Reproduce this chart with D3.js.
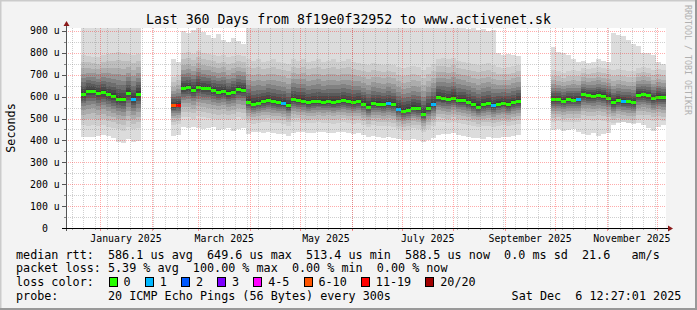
<!DOCTYPE html>
<html lang="en">
<head>
<meta charset="UTF-8">
<title>Last 360 Days from 8f19e0f32952 to www.activenet.sk</title>
<script src="https://cdnjs.cloudflare.com/ajax/libs/d3/7.8.5/d3.min.js"></script>
<style>
  body { margin: 0; background: #fff; }
  svg { display: block; font-family: "DejaVu Sans Mono", monospace; }
  text { white-space: pre; }
</style>
</head>
<body>
<svg id="chart" width="697" height="310"></svg>
<script>
// ---- data (3-day bins, starting 360 days before the end time) ----
const endTime = new Date(2025, 11, 6, 12, 27, 1);
const binDays = 3;

// median rtt in microseconds, null = no data
const median = [
  null, null, null, 612, 627, 628, 618, 620, 610, 603,
  590, 588, 618, 590, 614, null, null, null, null, null,
  null, 560, 562, 640, 642, 632, 645, 640, 638, 630,
  622, 625, 615, 622, 635, 632, 577, 568, 572, 578,
  583, 578, 575, 572, 560, 588, 585, 582, 575, 578,
  580, 577, 580, 576, 580, 583, 578, 575, 578, 568,
  555, 570, 568, 565, 570, 565, 545, 536, 540, 550,
  546, 520, 548, 565, 597, 592, 588, 596, 585, 583,
  575, 566, 555, 565, 570, 560, 568, 572, 566, 574,
  580, null, null, null, null, null, null, 588, 588, 582,
  588, 587, 588, 610, 606, 604, 608, 603, 596, 575,
  584, 580, 578, 575, 608, 610, 606, 592, 600, 597
];

// highest ping of the bin
const smokeMax = [
  null, null, null, 920, 920, 920, 920, 920, 920, 920,
  920, 920, 920, 920, 920, null, null, null, null, null,
  null, 770, 760, 900, 890, 905, 920, 895, 880, 870,
  885, 860, 850, 870, 855, 840, 920, 920, 920, 920,
  920, 920, 920, 920, 920, 920, 920, 920, 920, 920,
  920, 920, 920, 920, 920, 920, 920, 920, 920, 920,
  920, 920, 920, 920, 920, 920, 920, 920, 920, 920,
  920, 920, 920, 920, 920, 920, 920, 920, 920, 915,
  910, 915, 905, 910, 900, 905, 800, 790, 795, 790,
  785, null, null, null, null, null, null, 825, 805, 800,
  790, 770, 760, 765, 755, 760, 770, 765, 760, 890,
  880, 875, 860, 840, 830, 800, 800, 790, 760, 750
];

// upper edge of the dense smoke
const smokeHi = [
  null, null, null, 790, 785, 780, 780, 790, 795, 800,
  805, 800, 795, 790, 795, null, null, null, null, null,
  null, 690, 700, 800, 805, 795, 810, 800, 795, 790,
  785, 790, 780, 785, 790, 785, 770, 765, 770, 760,
  765, 770, 760, 755, 750, 770, 765, 770, 760, 765,
  770, 760, 765, 770, 760, 765, 770, 760, 755, 750,
  745, 755, 750, 745, 750, 745, 735, 730, 735, 740,
  735, 720, 735, 750, 770, 775, 770, 775, 765, 760,
  755, 750, 745, 750, 755, 745, 735, 730, 735, 740,
  745, null, null, null, null, null, null, 720, 715, 710,
  715, 720, 715, 730, 725, 730, 735, 730, 725, 720,
  725, 720, 715, 715, 730, 735, 730, 720, 725, 720
];

// lower edge of the dense smoke
const smokeLo = [
  null, null, null, 470, 468, 472, 465, 470, 462, 458,
  450, 445, 460, 450, 455, null, null, null, null, null,
  null, 470, 475, 505, 508, 500, 510, 505, 502, 498,
  495, 500, 492, 498, 505, 500, 480, 475, 478, 482,
  485, 480, 478, 475, 468, 485, 482, 480, 478, 480,
  482, 478, 480, 476, 480, 484, 480, 476, 478, 470,
  460, 470, 468, 465, 468, 462, 450, 445, 448, 455,
  452, 440, 452, 465, 485, 482, 480, 485, 478, 475,
  470, 465, 460, 465, 468, 462, 465, 470, 466, 472,
  475, null, null, null, null, null, null, 485, 488, 482,
  486, 485, 484, 495, 492, 490, 494, 490, 485, 478,
  485, 482, 480, 478, 495, 498, 494, 488, 492, 490
];

// lowest ping of the bin
const smokeMin = [
  null, null, null, 417, 415, 418, 420, 425, 422, 410,
  395, 388, 405, 392, 398, null, null, null, null, null,
  null, 420, 425, 460, 455, 462, 458, 450, 455, 460,
  448, 452, 455, 445, 450, 455, 430, 440, 438, 432,
  440, 436, 430, 428, 420, 434, 438, 440, 436, 432,
  438, 440, 436, 432, 438, 440, 436, 430, 434, 425,
  415, 420, 418, 412, 415, 410, 405, 400, 402, 408,
  404, 395, 400, 410, 425, 430, 428, 432, 426, 420,
  415, 410, 412, 408, 415, 410, 412, 418, 415, 420,
  425, null, null, null, null, null, null, 448, 450, 445,
  448, 450, 440, 430, 425, 432, 420, 428, 435, 470,
  478, 482, 480, 475, 478, 470, 455, 445, 460, 470
];

// bins with lost pings (everything else lost 0 of 20)
const lossBins = [13, 21, 22, 43, 64, 66, 73, 85, 102, 111];
const lossCounts = [1, 8, 15, 1, 1, 1, 1, 1, 1, 1];

const lossLabels = ["0", "1", "2", "3", "4-5", "6-10", "11-19", "20/20"];
const lossMaxCount = [0, 1, 2, 3, 5, 10, 19, 20];
const lossColors = ["#26ff00", "#00b8ff", "#0059ff", "#7e00ff", "#ff00ff", "#ff5500", "#ff0000", "#a10000"];

const yTicks = [0, 100, 200, 300, 400, 500, 600, 700, 800, 900];
const yTickLabels = ["  0", "100 u", "200 u", "300 u", "400 u", "500 u", "600 u", "700 u", "800 u", "900 u"];
const xTickMonths = ["2025-01", "2025-03", "2025-05", "2025-07", "2025-09", "2025-11"];
const xTickLabels = ["January 2025", "March 2025", "May 2025", "July 2025", "September 2025", "November 2025"];

const titleText = "Last 360 Days from 8f19e0f32952 to www.activenet.sk";
const legendRtt = "median rtt:  586.1 us avg  649.6 us max  513.4 us min  588.5 us now  0.0 ms sd  21.6   am/s";
const legendLoss = "packet loss: 5.39 % avg  100.00 % max  0.00 % min  0.00 % now";
const legendProbe = "probe:       20 ICMP Echo Pings (56 Bytes) every 300s";
const legendDate = "Sat Dec  6 12:27:01 2025";

// ---- layout ----
const W = 697, H = 310;
const plot = { left: 66, right: 666, top: 28, bottom: 228 };
const cw = 7.08; // legend character advance

const svg = d3.select("#chart");
const startTime = new Date(+endTime - 360 * 864e5);
const x = d3.scaleTime().domain([startTime, endTime]).range([plot.left, plot.right]);
const y = d3.scaleLinear().domain([0, 913.7]).range([plot.bottom, plot.top]);

const binStart = i => new Date(+startTime + i * binDays * 864e5);
const bins = median.map((m, i) => ({
  i, m,
  t0: binStart(i), t1: binStart(i + 1),
  max: smokeMax[i], hi: smokeHi[i], lo: smokeLo[i], min: smokeMin[i],
  loss: lossBins.includes(i) ? lossCounts[lossBins.indexOf(i)] : 0
})).filter(d => d.m !== null);

// background and frame
svg.append("rect").attr("width", W).attr("height", H).attr("fill", "#f3f3f3");
svg.append("path").attr("d", `M0.5,${H}V0.5H${W}`).attr("fill", "none").attr("stroke", "#cbcbcb").attr("stroke-width", 2);
svg.append("path").attr("d", `M${W - 1},0V${H - 1}H0`).attr("fill", "none").attr("stroke", "#999").attr("stroke-width", 2);

svg.append("rect")
  .attr("x", plot.left).attr("y", plot.top)
  .attr("width", plot.right - plot.left).attr("height", plot.bottom - plot.top)
  .attr("fill", "#fff");

svg.append("clipPath").attr("id", "clip").append("rect")
  .attr("x", plot.left).attr("y", plot.top)
  .attr("width", plot.right - plot.left).attr("height", plot.bottom - plot.top);

const g = svg.append("g").attr("clip-path", "url(#clip)").attr("shape-rendering", "crispEdges");

// smoke: light outer range, then darker shells closing in on the median
const shells = [
  { t: 1.00, c: "#cecece" }, { t: 0.82, c: "#bebebe" }, { t: 0.66, c: "#acacac" },
  { t: 0.52, c: "#979797" }, { t: 0.40, c: "#828282" }, { t: 0.30, c: "#6d6d6d" },
  { t: 0.21, c: "#5a5a5a" }, { t: 0.13, c: "#4a4a4a" }, { t: 0.06, c: "#3d3d3d" }
];

g.selectAll("rect.range").data(bins).join("rect")
  .attr("class", "range")
  .attr("x", d => x(d.t0)).attr("width", d => x(d.t1) - x(d.t0))
  .attr("y", d => y(d.max)).attr("height", d => y(d.min) - y(d.max))
  .attr("fill", "#dcdcdc");

shells.forEach((s, k) => {
  g.selectAll("rect.shell" + k).data(bins).join("rect")
    .attr("class", "shell" + k)
    .attr("x", d => x(d.t0)).attr("width", d => x(d.t1) - x(d.t0))
    .attr("y", d => y(d.m + (d.hi - d.m) * s.t))
    .attr("height", d => y(d.m - (d.m - d.lo) * s.t) - y(d.m + (d.hi - d.m) * s.t))
    .attr("fill", s.c);
});

const lossColor = n => lossColors[lossMaxCount.findIndex(v => n <= v)];

g.selectAll("rect.median").data(bins).join("rect")
  .attr("class", "median")
  .attr("x", d => x(d.t0)).attr("width", d => x(d.t1) - x(d.t0))
  .attr("y", d => Math.round(y(d.m)) - 1).attr("height", 3)
  .attr("fill", d => lossColor(d.loss));

// grid, drawn over the data like rrdtool does
const minorGrid = "rgba(128,128,128,0.38)";
const majorGrid = "rgba(255,0,0,0.33)";
const grid = svg.append("g").attr("shape-rendering", "crispEdges").attr("stroke-dasharray", "1,1");
const minorY = d3.range(50, 901, 100);
grid.selectAll("line.hmin").data(minorY).join("line")
  .attr("x1", plot.left).attr("x2", plot.right)
  .attr("y1", d => Math.round(y(d)) + 0.5).attr("y2", d => Math.round(y(d)) + 0.5)
  .attr("stroke", minorGrid);
const weeks = d3.timeSunday.range(startTime, endTime);
grid.selectAll("line.vmin").data(weeks).join("line")
  .attr("x1", d => Math.round(x(d)) + 0.5).attr("x2", d => Math.round(x(d)) + 0.5)
  .attr("y1", plot.top).attr("y2", plot.bottom)
  .attr("stroke", minorGrid);
grid.selectAll("line.hmaj").data(yTicks.slice(1)).join("line")
  .attr("x1", plot.left).attr("x2", plot.right)
  .attr("y1", d => Math.round(y(d)) + 0.5).attr("y2", d => Math.round(y(d)) + 0.5)
  .attr("stroke", majorGrid);
const months = d3.timeMonth.range(startTime, endTime);
grid.selectAll("line.vmaj").data(months).join("line")
  .attr("x1", d => Math.round(x(d)) + 0.5).attr("x2", d => Math.round(x(d)) + 0.5)
  .attr("y1", plot.top).attr("y2", plot.bottom)
  .attr("stroke", majorGrid);

// tick marks
const ticks = svg.append("g").attr("shape-rendering", "crispEdges");
ticks.selectAll("line.yt").data(yTicks).join("line")
  .attr("x1", plot.left - 4).attr("x2", plot.left)
  .attr("y1", d => Math.round(y(d)) + 0.5).attr("y2", d => Math.round(y(d)) + 0.5)
  .attr("stroke", "#555");
ticks.selectAll("line.ym").data(minorY).join("line")
  .attr("x1", plot.left - 2).attr("x2", plot.left)
  .attr("y1", d => Math.round(y(d)) + 0.5).attr("y2", d => Math.round(y(d)) + 0.5)
  .attr("stroke", "#888");
ticks.selectAll("line.xm").data(weeks).join("line")
  .attr("x1", d => Math.round(x(d)) + 0.5).attr("x2", d => Math.round(x(d)) + 0.5)
  .attr("y1", plot.bottom).attr("y2", plot.bottom + 2)
  .attr("stroke", "#aaa");
ticks.selectAll("line.xt").data(months).join("line")
  .attr("x1", d => Math.round(x(d)) + 0.5).attr("x2", d => Math.round(x(d)) + 0.5)
  .attr("y1", plot.bottom).attr("y2", plot.bottom + 3)
  .attr("stroke", "rgba(255,40,40,0.5)");

// axes with arrows
const axes = svg.append("g").attr("shape-rendering", "crispEdges");
axes.append("line").attr("x1", plot.left + 0.5).attr("x2", plot.left + 0.5)
  .attr("y1", plot.bottom + 3).attr("y2", plot.top - 5).attr("stroke", "#555");
axes.append("line").attr("x1", plot.left - 4).attr("x2", plot.right + 4)
  .attr("y1", plot.bottom + 0.5).attr("y2", plot.bottom + 0.5).attr("stroke", "#000");
svg.append("path")
  .attr("d", `M${plot.left - 2.5},${plot.top - 2}L${plot.left + 0.5},${plot.top - 7}L${plot.left + 3.5},${plot.top - 2}Z`)
  .attr("fill", "#8b1a1a");
svg.append("path")
  .attr("d", `M${plot.right + 2},${plot.bottom - 2.5}L${plot.right + 7},${plot.bottom + 0.5}L${plot.right + 2},${plot.bottom + 3.5}Z`)
  .attr("fill", "#8b1a1a");

// axis labels
svg.selectAll("text.yl").data(yTicks).join("text")
  .attr("x", 30).attr("y", d => y(d) + 3.5)
  .attr("font-size", "9.9px").attr("fill", "#000")
  .text((d, i) => yTickLabels[i]);

const monthMid = s => {
  const m0 = d3.timeParse("%Y-%m")(s);
  const m1 = d3.timeMonth.offset(m0, 1);
  return new Date((+m0 + +m1) / 2);
};
svg.selectAll("text.xl").data(xTickMonths).join("text")
  .attr("x", d => x(monthMid(d))).attr("y", 242)
  .attr("text-anchor", "middle").attr("font-size", "9.9px").attr("fill", "#000")
  .text((d, i) => xTickLabels[i]);

svg.append("text")
  .attr("transform", `translate(15,${(plot.top + plot.bottom) / 2}) rotate(-90)`)
  .attr("text-anchor", "middle").attr("font-size", "11.75px").text("Seconds");

svg.append("text")
  .attr("x", W / 2).attr("y", 24).attr("text-anchor", "middle")
  .attr("font-size", "13.2px").text(titleText);

svg.append("text")
  .attr("transform", "translate(685,5) rotate(90)")
  .attr("font-size", "8.3px").attr("fill", "#b0b0b0")
  .text("RRDTOOL / TOBI OETIKER");

// legend
const legend = svg.append("g").attr("font-size", "11.75px").attr("fill", "#000");
legend.append("text").attr("x", 16).attr("y", 258.5).text(legendRtt);
legend.append("text").attr("x", 16).attr("y", 272.3).text(legendLoss);
legend.append("text").attr("x", 16).attr("y", 286.1).text("loss color:");
legend.append("text").attr("x", 16).attr("y", 299.9).text(legendProbe);
legend.append("text").attr("x", 16 + 70 * cw).attr("y", 299.9).text(legendDate);

let bx = 108.7;
lossLabels.forEach((lab, i) => {
  legend.append("rect").attr("x", bx + 0.5).attr("y", 277.5).attr("width", 8).attr("height", 9)
    .attr("fill", lossColors[i]).attr("stroke", "#000").attr("shape-rendering", "crispEdges");
  legend.append("text").attr("x", bx + 14.9).attr("y", 286.1).text(lab);
  bx += 14.9 + (lab.length + 2) * cw;
});
</script>
</body>
</html>
